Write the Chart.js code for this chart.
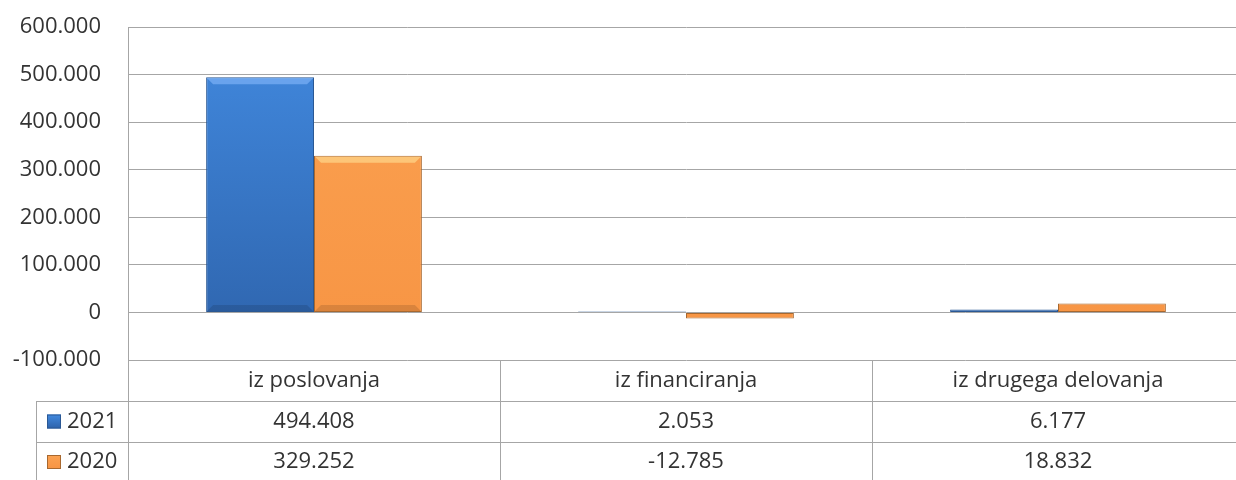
<!DOCTYPE html>
<html>
<head>
<meta charset="utf-8">
<script src="https://cdn.jsdelivr.net/npm/chart.js@4.4.1/dist/chart.umd.min.js"></script>
<style>
  html, body { margin: 0; padding: 0; background: #fff; overflow: hidden; }
  #wrap { width: 1248px; height: 480px; position: relative; }
</style>
</head>
<body>
<div id="wrap"><canvas id="cashChart"></canvas></div>
<script>
// Data
const categories = ["iz poslovanja", "iz financiranja", "iz drugega delovanja"];
const seriesNames = ["2021", "2020"];
const values2021 = [494408, 2053, 6177];
const values2020 = [329252, -12785, 18832];
const yTicks = [-100000, 0, 100000, 200000, 300000, 400000, 500000, 600000];

const FONT = "'Open Sans', 'DejaVu Sans', sans-serif";
const TEXT = "#333333";
const LINE = "#a6a6a6";

// Slovenian style thousands separator
function fmt(v) {
  const s = Math.abs(v).toString().replace(/\B(?=(\d{3})+(?!\d))/g, ".");
  return (v < 0 ? "-" : "") + s;
}

const palettes = [
  { top: "#428ae0", bottom: "#2d62aa", border: "#2a5894", thin: "#7d97b8", light: "rgba(140,190,255,0.55)" },
  { top: "#fba252", bottom: "#f79443", border: "#a8682f", thin: "#dba45a", light: "rgba(255,225,150,0.6)" }
];

function barFill(p) {
  return function (c) {
    const chart = c.chart;
    const area = chart.chartArea;
    if (!area) return p.top;
    const el = c.element;
    if (el && Math.abs(el.base - el.y) < 15) return p.thin;
    const g = chart.ctx.createLinearGradient(0, area.top, 0, area.bottom);
    g.addColorStop(0, p.top);
    g.addColorStop(1, p.bottom);
    return g;
  };
}

// Simple bevel: light strip along top, darker along bottom of each bar
const bevelPlugin = {
  id: "bevel",
  afterDatasetsDraw(chart) {
    const ctx = chart.ctx;
    chart.data.datasets.forEach((ds, i) => {
      const meta = chart.getDatasetMeta(i);
      meta.data.forEach(bar => {
        const h = Math.abs(bar.base - bar.y);
        if (h < 15) return;
        const left = bar.x - bar.width / 2;
        const right = bar.x + bar.width / 2;
        const top = Math.min(bar.y, bar.base);
        const bot = Math.max(bar.y, bar.base);
        const b = 7;
        ctx.save();
        ctx.fillStyle = palettes[i].light;
        ctx.beginPath();
        ctx.moveTo(left + 1, top + 1);
        ctx.lineTo(right - 1, top + 1);
        ctx.lineTo(right - b, top + b);
        ctx.lineTo(left + b, top + b);
        ctx.closePath();
        ctx.fill();
        ctx.fillStyle = "rgba(0,0,0,0.12)";
        ctx.beginPath();
        ctx.moveTo(left + 1, bot - 1);
        ctx.lineTo(right - 1, bot - 1);
        ctx.lineTo(right - b, bot - b);
        ctx.lineTo(left + b, bot - b);
        ctx.closePath();
        ctx.fill();
        ctx.restore();
      });
    });
  }
};

// Data table under the plot, aligned to the x scale
const tablePlugin = {
  id: "dataTable",
  afterDraw(chart) {
    const ctx = chart.ctx;
    const x = chart.scales.x;
    const area = chart.chartArea;
    const rowH = 41;
    const y0 = area.bottom;
    const y1 = y0 + rowH;
    const y2 = y1 + rowH;
    const y3 = chart.height;
    const legendLeft = 36;
    const half = (x.getPixelForValue(1) - x.getPixelForValue(0)) / 2;

    ctx.save();
    ctx.strokeStyle = LINE;
    ctx.lineWidth = 1;
    ctx.beginPath();
    // horizontal row lines
    [y1, y2].forEach(y => {
      ctx.moveTo(legendLeft, y + 0.5);
      ctx.lineTo(chart.width, y + 0.5);
    });
    // vertical column lines
    ctx.moveTo(legendLeft + 0.5, y1);
    ctx.lineTo(legendLeft + 0.5, y3);
    ctx.moveTo(area.left + 0.5, y0);
    ctx.lineTo(area.left + 0.5, y3);
    for (let i = 1; i < categories.length; i++) {
      const cx = Math.round(x.getPixelForValue(i) - half) + 0.5;
      ctx.moveTo(cx, y0);
      ctx.lineTo(cx, y3);
    }
    ctx.stroke();

    ctx.fillStyle = TEXT;
    ctx.font = "22px " + FONT;
    ctx.textAlign = "center";
    ctx.textBaseline = "middle";
    const rows = [values2021, values2020];
    categories.forEach((c, i) => {
      const cx = x.getPixelForValue(i);
      ctx.fillText(c, cx, (y0 + y1) / 2);
      rows.forEach((r, j) => {
        const yy = j === 0 ? (y1 + y2) / 2 : (y2 + y3) / 2 + 1;
        ctx.fillText(fmt(r[i]), cx, yy);
      });
    });

    // legend keys
    ctx.textAlign = "left";
    seriesNames.forEach((name, j) => {
      const yy = j === 0 ? (y1 + y2) / 2 : (y2 + y3) / 2 + 1;
      const p = palettes[j];
      const g = ctx.createLinearGradient(0, yy - 7, 0, yy + 7);
      g.addColorStop(0, p.top);
      g.addColorStop(1, p.bottom);
      ctx.fillStyle = g;
      ctx.fillRect(47, yy - 7, 14, 14);
      ctx.strokeStyle = p.border;
      ctx.strokeRect(47.5, yy - 6.5, 13, 13);
      ctx.fillStyle = TEXT;
      ctx.fillText(name, 67, yy);
    });
    ctx.restore();
  }
};

new Chart(document.getElementById("cashChart"), {
  type: "bar",
  data: {
    labels: categories,
    datasets: [
      {
        label: seriesNames[0],
        data: values2021,
        backgroundColor: barFill(palettes[0]),
        borderColor: palettes[0].border,
        borderWidth: 1,
        borderSkipped: false
      },
      {
        label: seriesNames[1],
        data: values2020,
        backgroundColor: barFill(palettes[1]),
        borderColor: palettes[1].border,
        borderWidth: 1,
        borderSkipped: false
      }
    ]
  },
  options: {
    responsive: true,
    maintainAspectRatio: false,
    animation: false,
    layout: { padding: { top: 27, right: 4, bottom: 120, left: 0 } },
    datasets: { bar: { barPercentage: 1, categoryPercentage: 0.58 } },
    scales: {
      x: { display: false },
      y: {
        min: yTicks[0],
        max: yTicks[yTicks.length - 1],
        afterBuildTicks(scale) {
          scale.ticks = yTicks.map(v => ({ value: v }));
        },
        afterFit(scale) {
          scale.width = 128;
          // tick padding should not push the plot down
          scale.paddingTop = 0;
          scale.paddingBottom = 0;
        },
        grid: { color: LINE, drawTicks: false },
        border: { display: true, color: LINE },
        ticks: {
          padding: 27,
          color: TEXT,
          font: { family: FONT, size: 22 },
          callback: v => fmt(v)
        }
      }
    },
    plugins: {
      legend: { display: false },
      tooltip: { enabled: false }
    }
  },
  plugins: [bevelPlugin, tablePlugin]
});
</script>
</body>
</html>
